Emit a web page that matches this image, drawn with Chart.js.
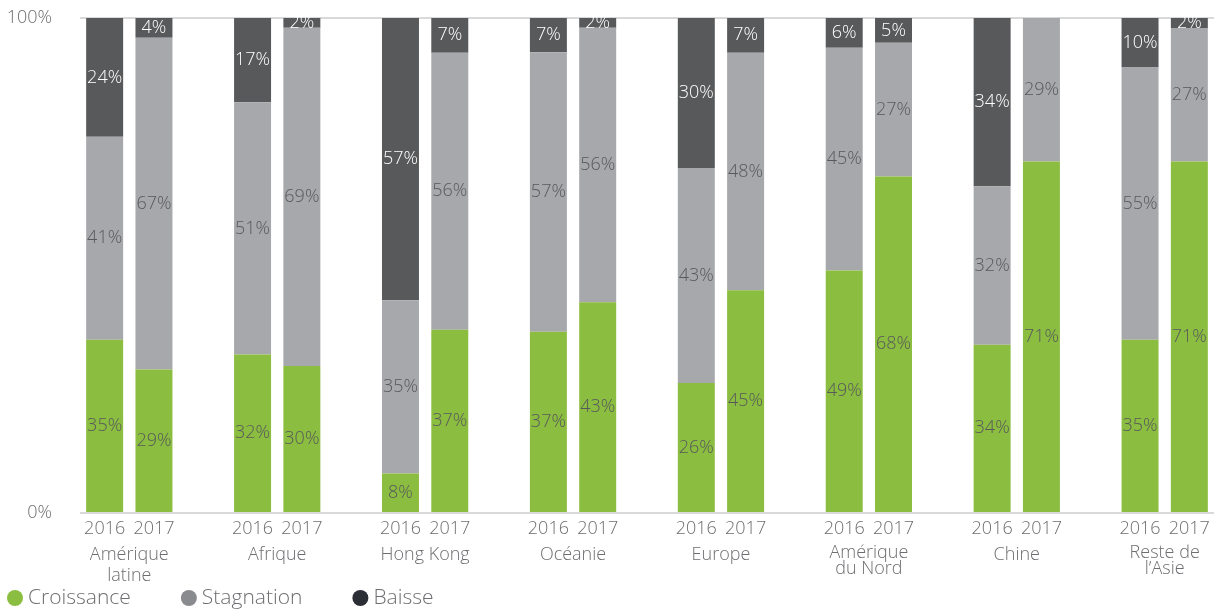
<!DOCTYPE html>
<html lang="fr">
<head>
<meta charset="utf-8">
<title>Croissance, stagnation, baisse 2016-2017</title>
<script src="https://cdn.jsdelivr.net/npm/chart.js@4"></script>
<style>
    html, body { margin: 0; padding: 0; background: #fff; }
    #wrap { width: 1222px; height: 611px; position: relative; }
</style>
</head>
<body>
<div id="wrap"><canvas id="chart"></canvas></div>
<script>
// --- DATA ---
const regions = [['Amérique', 'latine'], 'Afrique', 'Hong Kong', 'Océanie', 'Europe', ['Amérique', 'du Nord'], 'Chine', ['Reste de', 'l’Asie']];
const years = ['2016', '2017'];
const yTicks = [0, 100];

const croissance2016 = [35, 32, 8, 37, 26, 49, 34, 35];
const croissance2017 = [29, 30, 37, 43, 45, 68, 71, 71];
const stagnation2016 = [41, 51, 35, 57, 43, 45, 32, 55];
const stagnation2017 = [67, 69, 56, 56, 48, 27, 29, 27];
const baisse2016 = [24, 17, 57, 7, 30, 6, 34, 10];
const baisse2017 = [4, 2, 7, 2, 7, 5, 0, 2];

// --- COLOURS ---
const GREEN = '#8BBD40';
const GREY = '#A7A8AB';
const DARK = '#58595B';
const TEXT = '#6D6E71';
const FONT = "'Open Sans', 'Noto Sans', sans-serif";

// --- BUILD SLOTS (2016, 2017, gap, ...) ---
const xLabels = [];
const groupCenters = [];
const slotIndex = [];  // [region, year] per slot, null for gap
regions.forEach((r, i) => {
    groupCenters.push(xLabels.length + 0.5);
    years.forEach((y, j) => {
        xLabels.push(y);
        slotIndex.push([i, j]);
    });
    if (i < regions.length - 1) {
        xLabels.push('');
        slotIndex.push(null);
    }
});

const series = [
    { label: 'Croissance', y2016: croissance2016, y2017: croissance2017, color: GREEN, legendColor: GREEN, labelColor: DARK },
    { label: 'Stagnation', y2016: stagnation2016, y2017: stagnation2017, color: GREY, legendColor: '#8A8B8E', labelColor: DARK },
    { label: 'Baisse', y2016: baisse2016, y2017: baisse2017, color: DARK, legendColor: '#2C2E36', labelColor: '#FFFFFF' }
];

// bars are shown as shares of 100% (rounded values do not always add up to 100)
function total(i, j) {
    return series.reduce((sum, s) => sum + (j === 0 ? s.y2016[i] : s.y2017[i]), 0);
}

const datasets = series.map(s => {
    const raw = slotIndex.map(k => k ? (k[1] === 0 ? s.y2016[k[0]] : s.y2017[k[0]]) : null);
    return {
        label: s.label,
        raw: raw,
        data: slotIndex.map((k, n) => k ? raw[n] / total(k[0], k[1]) * 100 : null),
        backgroundColor: s.color,
        legendColor: s.legendColor,
        labelColor: s.labelColor,
        borderWidth: 0,
        categoryPercentage: 1,
        barPercentage: 0.75
    };
});

// --- PLUGINS ---
// values written in the middle of each segment
const barLabels = {
    id: 'barLabels',
    afterDatasetsDraw(chart) {
        const ctx = chart.ctx;
        ctx.save();
        ctx.font = '300 18px ' + FONT;
        ctx.textAlign = 'center';
        ctx.textBaseline = 'middle';
        chart.data.datasets.forEach((ds, di) => {
            chart.getDatasetMeta(di).data.forEach((bar, i) => {
                const v = ds.raw[i];
                if (!v) return;
                ctx.fillStyle = ds.labelColor;
                ctx.fillText(v + '%', bar.x, (bar.y + bar.base) / 2);
            });
        });
        ctx.restore();
    }
};

// one-row legend at the bottom left
const legendRow = {
    id: 'legendRow',
    afterDraw(chart) {
        const ctx = chart.ctx;
        const y = chart.height - 13;
        let x = 7;
        ctx.save();
        ctx.font = '300 21px ' + FONT;
        ctx.textAlign = 'left';
        ctx.textBaseline = 'middle';
        chart.data.datasets.forEach(ds => {
            ctx.fillStyle = ds.legendColor;
            ctx.beginPath();
            ctx.arc(x + 8, y, 8, 0, Math.PI * 2);
            ctx.fill();
            ctx.fillStyle = TEXT;
            ctx.fillText(ds.label, x + 21, y);
            x += 21 + ctx.measureText(ds.label).width + 50;
        });
        ctx.restore();
    }
};

// --- CHART ---
new Chart(document.getElementById('chart'), {
    type: 'bar',
    data: { labels: xLabels, datasets: datasets },
    plugins: [barLabels, legendRow],
    options: {
        responsive: true,
        maintainAspectRatio: false,
        animation: false,
        layout: { padding: { top: 18, right: 8, bottom: 25, left: 0 } },
        plugins: {
            legend: { display: false },
            tooltip: { enabled: false }
        },
        scales: {
            x: {
                stacked: true,
                grid: { display: false, drawTicks: false },
                border: { display: false },
                ticks: {
                    color: TEXT,
                    font: { family: FONT, size: 18, weight: 300 },
                    padding: 5,
                    maxRotation: 0,
                    autoSkip: false
                }
            },
            regions: {
                type: 'linear',
                position: 'bottom',
                bounds: 'data',
                offset: false,
                min: -0.5,
                max: xLabels.length - 0.5,
                grid: { display: false, drawTicks: false },
                border: { display: false },
                afterBuildTicks: scale => { scale.ticks = groupCenters.map(v => ({ value: v })); },
                ticks: {
                    color: TEXT,
                    font: ctx => ({ family: FONT, size: 18, weight: 300, lineHeight: (ctx.index === 5 || ctx.index === 7) ? 0.9 : 1.15 }),
                    padding: 0,
                    maxRotation: 0,
                    autoSkip: false,
                    callback: (v, i) => regions[i]
                }
            },
            y: {
                stacked: true,
                min: 0,
                max: 100,
                afterBuildTicks: scale => { scale.ticks = yTicks.map(v => ({ value: v })); },
                afterFit: scale => {
                    scale.width = 80;
                    scale.paddingTop = 0;
                    scale.paddingBottom = 0;
                },
                grid: { color: '#D9D9D9', lineWidth: 2, drawTicks: false },
                border: { display: false },
                ticks: {
                    color: TEXT,
                    font: { family: FONT, size: 18, weight: 300 },
                    padding: 28,
                    callback: v => v + '%'
                }
            }
        }
    }
});
</script>
</body>
</html>
